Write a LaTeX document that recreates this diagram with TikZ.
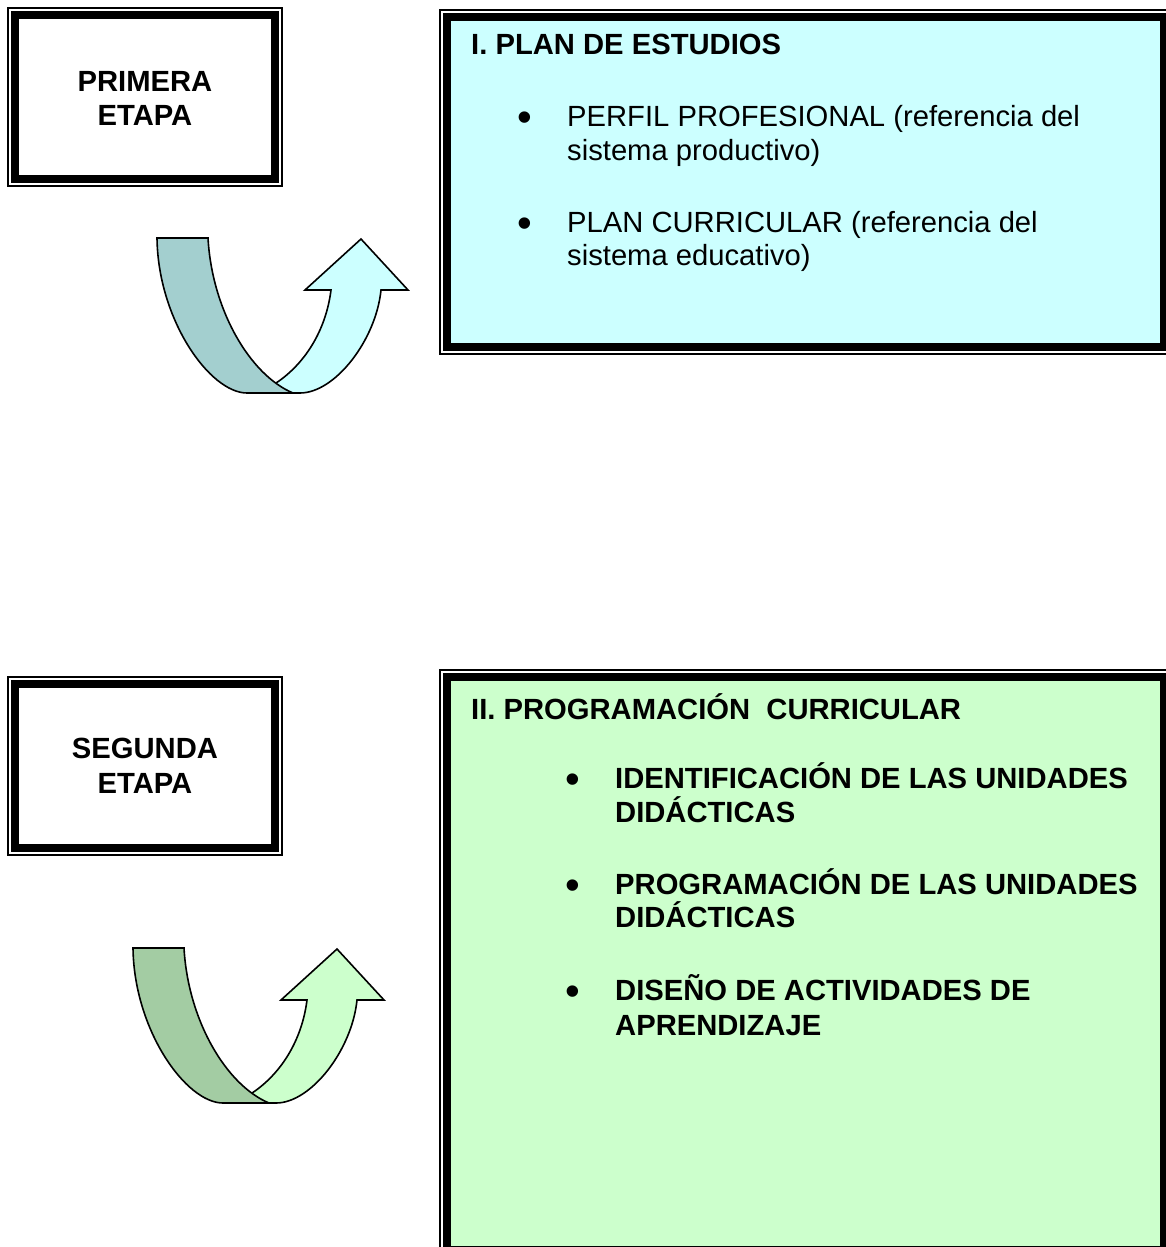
\documentclass[tikz,border=0pt]{standalone}
\usepackage{fontspec}
\setmainfont{Liberation Sans}
\definecolor{cyanfill}{HTML}{CCFFFF}
\definecolor{tealdark}{HTML}{A3CFCF}
\definecolor{greenfill}{HTML}{CCFFCC}
\definecolor{greendark}{HTML}{A3CCA3}
\tikzset{
  outerline/.style={line width=1.4pt},
  thickband/.style={line width=8pt},
  txt/.style={inner sep=0pt, font=\fontsize{29.2}{34}\selectfont},
  btxt/.style={txt, font=\fontsize{29.2}{34}\selectfont\bfseries},
  bul/.style={inner sep=0pt, anchor=base, font=\fontsize{42}{42}\selectfont},
  arrowline/.style={line width=1.6pt, line join=miter},
}
\newcommand\etapaframe[5]{%
  \fill[#5] (#1+7,#2+7) rectangle (#3-7,#4-7);
  \draw[outerline] (#1,#2) rectangle (#3,#4);
  \draw[thickband] (#1+7,#2+7) rectangle (#3-7,#4-7);
}
\newcommand\uturnarrow[4]{% dx dy dark light
  \begin{scope}[shift={(#1,#2)}]
    \filldraw[arrowline, fill=#4] (273,385) .. controls (305,365) and (326,330) .. (331,290)
      -- (305,290) -- (361,239) -- (408,290) -- (381,290)
      .. controls (376,340) and (335,393) .. (300,393) -- (285,393) -- cycle;
    \filldraw[arrowline, fill=#3] (157,238) -- (208,238)
      .. controls (212,310) and (250,375) .. (293,393) -- (247,393)
      .. controls (210,393) and (158,320) .. (157,238) -- cycle;
  \end{scope}
}
\begin{document}
\begin{tikzpicture}[x=1pt,y=-1pt]
  \useasboundingbox (0,0) rectangle (1166,1247);
  \clip (0,0) rectangle (1166,1247);
  \fill[white] (0,0) rectangle (1166,1247);

  % first stage
  \etapaframe{8}{8}{282}{186}{white}
  \node[btxt, anchor=base] (p1) at (145,91) {PRIMERA};
  \node[btxt, anchor=base] (p2) at (145,125) {ETAPA};

  \etapaframe{440}{10}{1171}{354}{cyanfill}
  \node[btxt, anchor=base west] (t1) at (471,55) {I. PLAN DE ESTUDIOS};
  \node[bul] (b1) at (525,131) {•};
  \node[txt, anchor=base west] (l1a) at (567,126) {PERFIL PROFESIONAL (referencia del};
  \node[txt, anchor=base west] (l1b) at (567,160) {sistema productivo)};
  \node[bul] (b2) at (525,237) {•};
  \node[txt, anchor=base west] (l2a) at (567,232) {PLAN CURRICULAR (referencia del};
  \node[txt, anchor=base west] (l2b) at (567,265) {sistema educativo)};

  \uturnarrow{0}{0}{tealdark}{cyanfill}

  % second stage
  \etapaframe{8}{677}{282}{855}{white}
  \node[btxt, anchor=base] (s1) at (145,758) {SEGUNDA};
  \node[btxt, anchor=base] (s2) at (145,793) {ETAPA};

  \etapaframe{440}{670}{1171}{1257}{greenfill}
  \node[btxt, anchor=base west] (t2) at (471,719) {II. PROGRAMACIÓN\ \ CURRICULAR};
  \node[bul] (c1) at (573,793) {•};
  \node[btxt, anchor=base west] (m1a) at (615,788) {IDENTIFICACIÓN DE LAS UNIDADES};
  \node[btxt, anchor=base west] (m1b) at (615,822) {DIDÁCTICAS};
  \node[bul] (c2) at (573,899) {•};
  \node[btxt, anchor=base west] (m2a) at (615,894) {PROGRAMACIÓN DE LAS UNIDADES};
  \node[btxt, anchor=base west] (m2b) at (615,927) {DIDÁCTICAS};
  \node[bul] (c3) at (573,1005) {•};
  \node[btxt, anchor=base west] (m3a) at (615,1000) {DISEÑO DE ACTIVIDADES DE};
  \node[btxt, anchor=base west] (m3b) at (615,1035) {APRENDIZAJE};

  \uturnarrow{-24}{710}{greendark}{greenfill}
\end{tikzpicture}
\end{document}
